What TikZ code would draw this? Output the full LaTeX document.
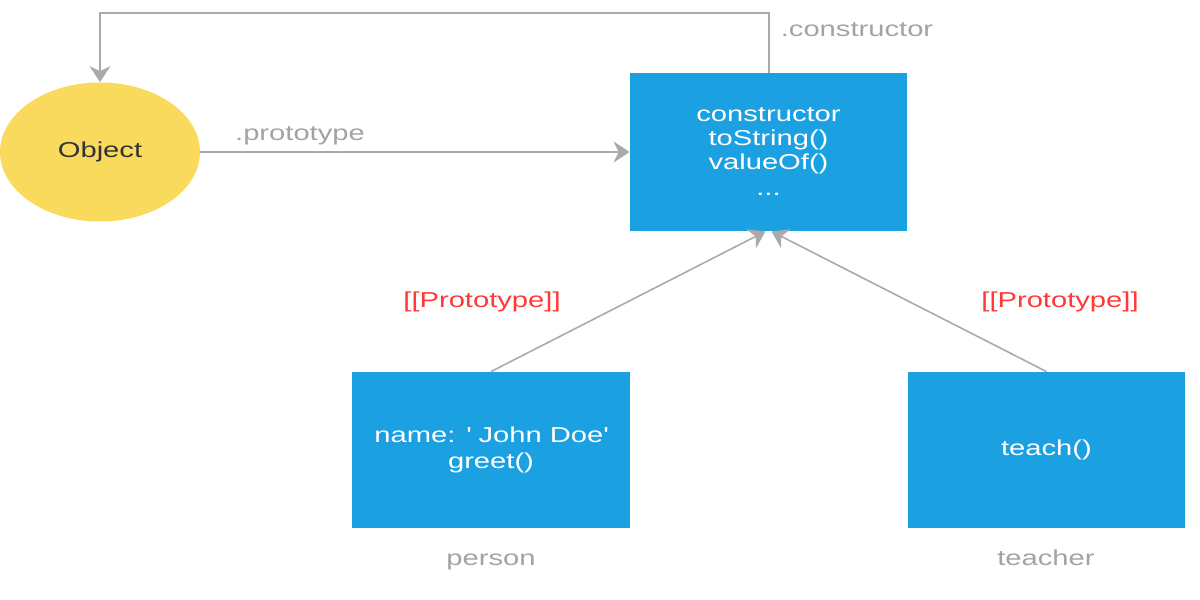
\documentclass[tikz,border=0pt]{standalone}
\usepackage{fontspec}
\setmainfont{Liberation Sans}[FakeStretch=1.35]
\usepackage{xcolor}
\usetikzlibrary{arrows.meta}
\usetikzlibrary{shapes.geometric}
\definecolor{boxblue}{HTML}{1BA1E2}
\definecolor{objyellow}{HTML}{F9DA5C}
\definecolor{linegray}{HTML}{AAAAAA}
\definecolor{labelgray}{HTML}{A3A3A3}
\definecolor{protored}{HTML}{FF3838}
\begin{document}
\begin{tikzpicture}[x=0.5pt,y=-0.5pt,
    every node/.style={font=\fontsize{10.8}{12}\selectfont},
    objbox/.style={fill=boxblue,text=white,align=center,inner sep=0pt},
    link/.style={linegray,line width=1pt,-{Stealth[length=8pt,width=10.5pt,inset=2.5pt]}},
    slant/.style={link,line width=0.8pt},
    lbl/.style={text=labelgray,anchor=base},
    proto/.style={text=protored,anchor=base}]
    \useasboundingbox (0,0) rectangle (1200,600);

    \node[ellipse,fill=objyellow,minimum width=100pt,minimum height=69.5pt,inner sep=0pt,text=black!80] (object) at (100,152) {Object};
    \node[objbox,minimum width=138.5pt,minimum height=79pt] (protobox) at (768.5,152) {constructor\\toString()\\valueOf()\\[1pt]...};
    \node[objbox,minimum width=139pt,minimum height=78pt,font=\fontsize{10.8}{13}\selectfont] (person) at (491,450) {name: \textquotesingle\ John Doe\textquotesingle\\greet()};
    \node[objbox,minimum width=138.5pt,minimum height=78pt] (teacher) at (1046.5,450) {teach()};

    \draw[link] (protobox.north) -- ++(0,-60) -| (object.north);
    \draw[link] (object.east) -- (protobox.west);
    \draw[slant] (person.north) -- ([xshift=-1.5pt]protobox.south);
    \draw[slant] (teacher.north) -- ([xshift=1.5pt]protobox.south);

    \node[lbl] (ctorlbl) at (857,36) {.constructor};
    \node[lbl] (protolbl) at (300,140) {.prototype};
    \node[proto] (plbl1) at (482,307) {[[Prototype]]};
    \node[proto] (plbl2) at (1060,307) {[[Prototype]]};
    \node[lbl] (personlbl) at (491,565) {person};
    \node[lbl] (teacherlbl) at (1046,565) {teacher};
\end{tikzpicture}
\end{document}
